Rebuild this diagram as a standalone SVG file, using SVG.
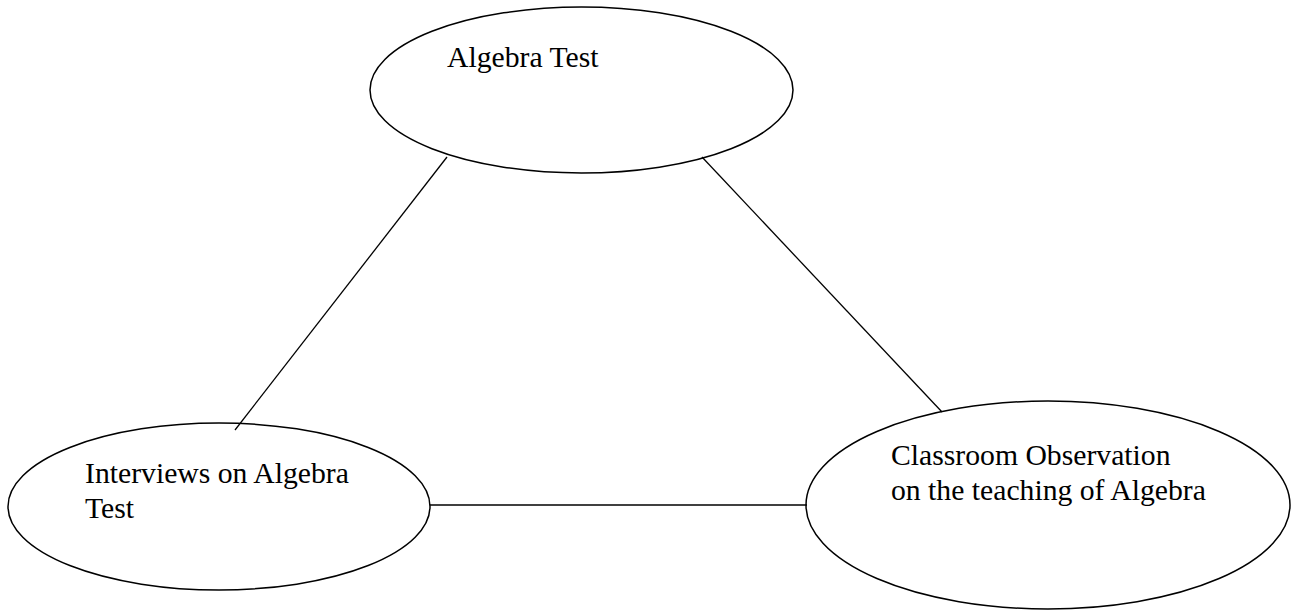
<svg xmlns="http://www.w3.org/2000/svg" width="1295" height="611" viewBox="0 0 1295 611">
<style>
.node{fill:none;stroke:#000;stroke-width:1.5}
.lbl{font-family:"Liberation Serif","Times New Roman",serif;font-size:29.7px;fill:#000}
.edge{stroke:#000;stroke-width:1.3;fill:none}
</style>
<rect width="1295" height="611" fill="#fff"/>
<g id="node-algebra-test">
<ellipse class="node" cx="581.5" cy="90" rx="211.5" ry="83"/>
<text class="lbl" x="447" y="67">Algebra Test</text>
</g>
<g id="node-interviews">
<ellipse class="node" cx="219" cy="506.5" rx="211" ry="83.5"/>
<text class="lbl" x="85" y="483">Interviews on Algebra</text>
<text class="lbl" x="85" y="518">Test</text>
</g>
<g id="node-classroom">
<ellipse class="node" cx="1048" cy="505" rx="242" ry="104"/>
<text class="lbl" x="891" y="465">Classroom Observation</text>
<text class="lbl" x="891" y="500">on the teaching of Algebra</text>
</g>
<g id="connectors">
<line class="edge" x1="447" y1="157" x2="235" y2="430"/>
<line class="edge" x1="702" y1="157" x2="942" y2="412"/>
<line class="edge" x1="430" y1="505" x2="807" y2="505"/>
</g>
</svg>
